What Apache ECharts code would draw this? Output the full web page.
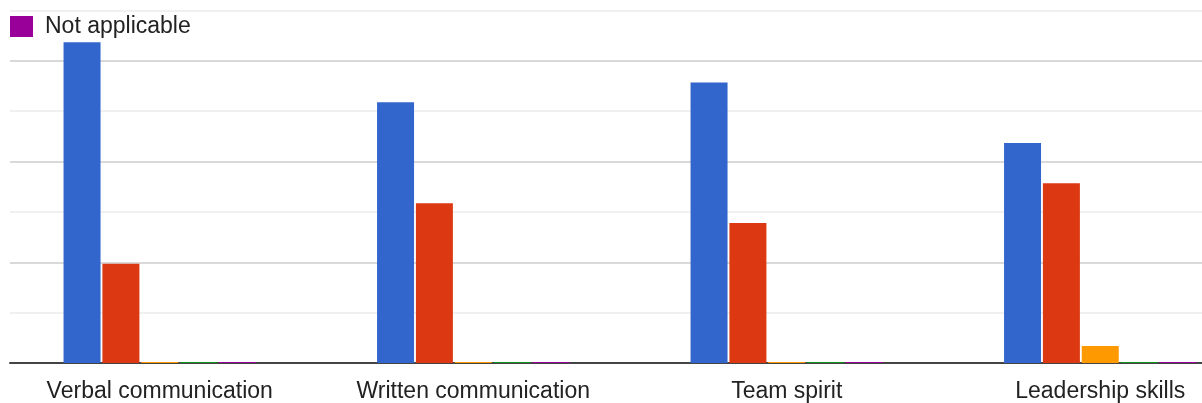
<!DOCTYPE html>
<html lang="en">

<head>
  <meta charset="UTF-8">
  <title>Skills rating</title>
  <style>
    html, body { margin: 0; padding: 0; background: #fff; }
  </style>
</head>

<body>
  <div id="main" style="width:1202px;height:403px;"></div>

  <script src="https://cdn.jsdelivr.net/npm/echarts@6/dist/echarts.min.js"></script>
  <script>
    var categories = ['Verbal communication', 'Written communication', 'Team spirit', 'Leadership skills']
    var seriesNames = ['Excellent', 'Good', 'Average', 'Poor', 'Not applicable']
    var seriesColors = ['#3366cc', '#dc3912', '#ff9900', '#109618', '#990099']

    var excellent = [63.7, 51.8, 55.7, 43.7]
    var good = [19.7, 31.7, 27.8, 35.7]
    var average = [0, 0, 0, 3.4]
    var poor = [0, 0, 0, 0]
    var notApplicable = [0, 0, 0, 0]
    var values = [excellent, good, average, poor, notApplicable]

    var font = '"Liberation Sans", Arial, sans-serif'
    var myChart = echarts.init(document.getElementById('main'))

    var series = seriesNames.map(function (name, i) {
      return {
        name: name,
        type: 'bar',
        xAxisIndex: 1,
        yAxisIndex: 1,
        data: values[i],
        barWidth: 37,
        barGap: '5%',
        barMinHeight: 1, // zero values still show as a thin line on the baseline
        itemStyle: { color: seriesColors[i] },
        emphasis: { disabled: true }
      }
    })

    var options = {
      animation: false,
      textStyle: { fontFamily: font },
      legend: {
        data: ['Not applicable'],
        left: 5,
        top: 10,
        icon: 'rect',
        itemWidth: 23,
        itemHeight: 21,
        textStyle: { fontSize: 23, color: '#222', fontFamily: font, padding: [0, 0, 0, 7] }
      },
      grid: [
        // gridlines and baseline
        { left: 10, right: 0, top: 10.5, bottom: 40, outerBoundsMode: 'none' },
        // bars, category bands run past the right edge like the original
        { left: 3, right: -55, top: 10.5, bottom: 40, outerBoundsMode: 'none' }
      ],
      xAxis: [
        {
          gridIndex: 0,
          type: 'value',
          min: 0,
          max: 1,
          axisLine: { show: true, onZero: false, lineStyle: { color: '#444', width: 2 } },
          axisTick: { show: false },
          axisLabel: { show: false },
          splitLine: { show: false }
        },
        {
          gridIndex: 1,
          type: 'category',
          data: categories,
          axisLine: { show: false },
          axisTick: { show: false },
          axisLabel: { interval: 0, fontSize: 23, color: '#222', margin: 17, fontFamily: font }
        }
      ],
      yAxis: [
        {
          gridIndex: 0,
          type: 'value',
          min: 0,
          max: 70,
          interval: 10,
          axisLine: { show: false },
          axisTick: { show: false },
          axisLabel: { show: false },
          splitLine: { lineStyle: { color: ['#cccccc', '#ebebeb'], width: 1.5 } }
        },
        {
          gridIndex: 1,
          type: 'value',
          min: 0,
          max: 70,
          interval: 10,
          show: false
        }
      ],
      series: series
    }
    myChart.setOption(options)
  </script>
</body>

</html>
